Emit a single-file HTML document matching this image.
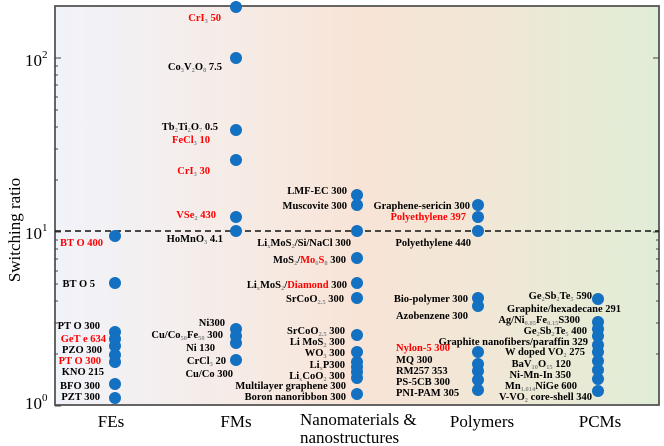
<!DOCTYPE html>
<html><head><style>
html,body{margin:0;padding:0;background:#fff;}
svg{display:block;}
text{font-family:"Liberation Serif",serif;font-weight:bold;font-size:10.5px;fill:#000;}
.r{fill:#f00;}
.s{font-size:6.5px;fill:#888;}
.ax{font-weight:normal;font-size:17px;}
</style></head><body>
<svg width="664" height="446" viewBox="0 0 664 446" xmlns="http://www.w3.org/2000/svg">
<defs>
<linearGradient id="bg" x1="0" x2="1" y1="0" y2="0">
<stop offset="0" stop-color="#f1f3fa"/>
<stop offset="0.3" stop-color="#f6ebe6"/>
<stop offset="0.5" stop-color="#f8e4d7"/>
<stop offset="0.72" stop-color="#f1e7d6"/>
<stop offset="1" stop-color="#e0edd6"/>
</linearGradient>
</defs>
<rect x="55" y="6" width="604" height="399" fill="url(#bg)"/>
<rect x="55" y="6" width="604" height="399" fill="none" stroke="#555" stroke-width="1.8"/>
<line x1="55" y1="231" x2="659" y2="231" stroke="#111" stroke-width="1.5" stroke-dasharray="6,4"/>
<g stroke="#444" stroke-width="1">
<line x1="55" y1="406" x2="61" y2="406"/><line x1="55" y1="232" x2="61" y2="232"/><line x1="55" y1="58" x2="61" y2="58"/>
<line x1="55" y1="354" x2="58" y2="354"/><line x1="55" y1="323" x2="58" y2="323"/><line x1="55" y1="301" x2="58" y2="301"/><line x1="55" y1="284" x2="58" y2="284"/><line x1="55" y1="271" x2="58" y2="271"/><line x1="55" y1="259" x2="58" y2="259"/><line x1="55" y1="249" x2="58" y2="249"/><line x1="55" y1="240" x2="58" y2="240"/>
<line x1="55" y1="180" x2="58" y2="180"/><line x1="55" y1="149" x2="58" y2="149"/><line x1="55" y1="127" x2="58" y2="127"/><line x1="55" y1="110" x2="58" y2="110"/><line x1="55" y1="97" x2="58" y2="97"/><line x1="55" y1="85" x2="58" y2="85"/><line x1="55" y1="75" x2="58" y2="75"/><line x1="55" y1="66" x2="58" y2="66"/>
<line x1="653" y1="58" x2="659" y2="58"/><line x1="653" y1="232" x2="659" y2="232"/>
<line x1="656" y1="240" x2="659" y2="240"/><line x1="656" y1="249" x2="659" y2="249"/><line x1="656" y1="259" x2="659" y2="259"/><line x1="656" y1="271" x2="659" y2="271"/><line x1="656" y1="284" x2="659" y2="284"/><line x1="656" y1="301" x2="659" y2="301"/><line x1="656" y1="323" x2="659" y2="323"/><line x1="656" y1="354" x2="659" y2="354"/>
</g>
<g fill="#1470c0">
<circle cx="115" cy="236" r="6"/><circle cx="115" cy="283" r="6"/><circle cx="115" cy="332" r="6"/><circle cx="115" cy="339" r="6"/><circle cx="115" cy="346" r="6"/><circle cx="115" cy="355" r="6"/><circle cx="115" cy="362" r="6"/><circle cx="115" cy="384" r="6"/><circle cx="115" cy="398" r="6"/>
<circle cx="236" cy="7" r="6"/><circle cx="236" cy="58" r="6"/><circle cx="236" cy="130" r="6"/><circle cx="236" cy="160" r="6"/><circle cx="236" cy="217" r="6"/><circle cx="236" cy="231" r="6"/><circle cx="236" cy="329" r="6"/><circle cx="236" cy="336" r="6"/><circle cx="236" cy="343" r="6"/><circle cx="236" cy="360" r="6"/>
<circle cx="357" cy="195" r="6"/><circle cx="357" cy="205" r="6"/><circle cx="357" cy="231" r="6"/><circle cx="357" cy="258" r="6"/><circle cx="357" cy="283" r="6"/><circle cx="357" cy="298" r="6"/><circle cx="357" cy="335" r="6"/><circle cx="357" cy="352" r="6"/><circle cx="357" cy="362" r="6"/><circle cx="357" cy="367" r="6"/><circle cx="357" cy="372" r="6"/><circle cx="357" cy="378" r="6"/><circle cx="357" cy="394" r="6"/>
<circle cx="478" cy="205" r="6"/><circle cx="478" cy="217" r="6"/><circle cx="478" cy="231" r="6"/><circle cx="478" cy="298" r="6"/><circle cx="478" cy="306" r="6"/><circle cx="478" cy="352" r="6"/><circle cx="478" cy="364" r="6"/><circle cx="478" cy="371" r="6"/><circle cx="478" cy="380" r="6"/><circle cx="478" cy="390" r="6"/>
<circle cx="598" cy="299" r="6"/><circle cx="598" cy="322" r="6"/><circle cx="598" cy="329" r="6"/><circle cx="598" cy="336" r="6"/><circle cx="598" cy="345" r="6"/><circle cx="598" cy="352" r="6"/><circle cx="598" cy="361" r="6"/><circle cx="598" cy="370" r="6"/><circle cx="598" cy="379" r="6"/><circle cx="598" cy="391" r="6"/>
</g>
<g text-anchor="end">
<text x="103" y="246" class="r">BT O 400</text>
<text x="95" y="287">BT O 5</text>
<text x="100" y="329">PT O 300</text>
<text x="106" y="342" class="r">GeT e 634</text>
<text x="102" y="353">PZO 300</text>
<text x="101" y="364" class="r">PT O 300</text>
<text x="104" y="375">KNO 215</text>
<text x="100" y="389">BFO 300</text>
<text x="100" y="400">PZT 300</text>

<text x="221" y="21" class="r">CrI<tspan class="s" dy="2">3</tspan><tspan dy="-2"> 50</tspan></text>
<text x="222" y="70">Co<tspan class="s" dy="2">3</tspan><tspan dy="-2">V</tspan><tspan class="s" dy="2">2</tspan><tspan dy="-2">O</tspan><tspan class="s" dy="2">8</tspan><tspan dy="-2"> 7.5</tspan></text>
<text x="218" y="130">Tb<tspan class="s" dy="2">2</tspan><tspan dy="-2">Ti</tspan><tspan class="s" dy="2">2</tspan><tspan dy="-2">O</tspan><tspan class="s" dy="2">7</tspan><tspan dy="-2"> 0.5</tspan></text>
<text x="210" y="143" class="r">FeCl<tspan class="s" dy="2">3</tspan><tspan dy="-2"> 10</tspan></text>
<text x="210" y="174" class="r">CrI<tspan class="s" dy="2">3</tspan><tspan dy="-2"> 30</tspan></text>
<text x="216" y="218" class="r">VSe<tspan class="s" dy="2">2</tspan><tspan dy="-2"> 430</tspan></text>
<text x="223" y="242">HoMnO<tspan class="s" dy="2">3</tspan><tspan dy="-2"> 4.1</tspan></text>
<text x="225" y="326">Ni300</text>
<text x="223" y="338">Cu/Co<tspan class="s" dy="2">50</tspan><tspan dy="-2">Fe</tspan><tspan class="s" dy="2">50</tspan><tspan dy="-2"> 300</tspan></text>
<text x="215" y="351">Ni 130</text>
<text x="226" y="364">CrCl<tspan class="s" dy="2">3</tspan><tspan dy="-2"> 20</tspan></text>
<text x="233" y="377">Cu/Co 300</text>

<text x="347" y="194">LMF-EC 300</text>
<text x="347" y="209">Muscovite 300</text>
<text x="351" y="246">Li<tspan class="s" dy="2">x</tspan><tspan dy="-2">MoS</tspan><tspan class="s" dy="2">2</tspan><tspan dy="-2">/Si/NaCl 300</tspan></text>
<text x="346" y="263">MoS<tspan class="s" dy="2">2</tspan><tspan dy="-2">/</tspan><tspan class="r">Mo</tspan><tspan class="s" dy="2">6</tspan><tspan class="r" dy="-2">S</tspan><tspan class="s" dy="2">8</tspan><tspan dy="-2"> 300</tspan></text>
<text x="347" y="288">Li<tspan class="s" dy="2">x</tspan><tspan dy="-2">MoS</tspan><tspan class="s" dy="2">2</tspan><tspan dy="-2">/</tspan><tspan class="r">Diamond</tspan><tspan> 300</tspan></text>
<text x="344" y="302">SrCoO<tspan class="s" dy="2">2.5</tspan><tspan dy="-2"> 300</tspan></text>
<text x="345" y="334">SrCoO<tspan class="s" dy="2">2.5</tspan><tspan dy="-2"> 300</tspan></text>
<text x="345" y="345">Li MoS<tspan class="s" dy="2">2</tspan><tspan dy="-2"> 300</tspan></text>
<text x="345" y="356">WO<tspan class="s" dy="2">3</tspan><tspan dy="-2"> 300</tspan></text>
<text x="345" y="368">Li<tspan class="s" dy="2">x</tspan><tspan dy="-2">P300</tspan></text>
<text x="345" y="379">Li<tspan class="s" dy="2">x</tspan><tspan dy="-2">CoO</tspan><tspan class="s" dy="2">2</tspan><tspan dy="-2"> 300</tspan></text>
<text x="346" y="389">Multilayer graphene 300</text>
<text x="346" y="400">Boron nanoribbon 300</text>

<text x="470" y="209">Graphene-sericin 300</text>
<text x="466" y="220" class="r">Polyethylene 397</text>
<text x="471" y="246">Polyethylene 440</text>
<text x="468" y="302">Bio-polymer 300</text>
<text x="468" y="319">Azobenzene 300</text>

<text x="592" y="299">Ge<tspan class="s" dy="2">2</tspan><tspan dy="-2">Sb</tspan><tspan class="s" dy="2">2</tspan><tspan dy="-2">Te</tspan><tspan class="s" dy="2">5</tspan><tspan dy="-2"> 590</tspan></text>
<text x="621" y="312">Graphite/hexadecane 291</text>
<text x="580" y="323">Ag/Ni<tspan class="s" dy="2">0.85</tspan><tspan dy="-2">Fe</tspan><tspan class="s" dy="2">0.15</tspan><tspan dy="-2">S300</tspan></text>
<text x="587" y="334">Ge<tspan class="s" dy="2">2</tspan><tspan dy="-2">Sb</tspan><tspan class="s" dy="2">2</tspan><tspan dy="-2">Te</tspan><tspan class="s" dy="2">5</tspan><tspan dy="-2"> 400</tspan></text>
<text x="588" y="345">Graphite nanofibers/paraffin 329</text>
<text x="585" y="355">W doped VO<tspan class="s" dy="2">2</tspan><tspan dy="-2"> 275</tspan></text>
<text x="571" y="367">BaV<tspan class="s" dy="2">10</tspan><tspan dy="-2">O</tspan><tspan class="s" dy="2">15</tspan><tspan dy="-2"> 120</tspan></text>
<text x="571" y="378">Ni-Mn-In 350</text>
<text x="577" y="389">Mn<tspan class="s" dy="2">1.014</tspan><tspan dy="-2">NiGe 600</tspan></text>
<text x="592" y="400">V-VO<tspan class="s" dy="2">2</tspan><tspan dy="-2"> core-shell 340</tspan></text>
</g>
<text x="396" y="351" class="r">Nylon-5 300</text>
<text x="396" y="363">MQ 300</text>
<text x="396" y="374">RM257 353</text>
<text x="396" y="385">PS-5CB 300</text>
<text x="396" y="396">PNI-PAM 305</text>

<text class="ax" x="25" y="409" font-size="18">10<tspan font-size="11" dy="-8">0</tspan></text>
<text class="ax" x="25" y="239" font-size="18">10<tspan font-size="11" dy="-8">1</tspan></text>
<text class="ax" x="25" y="66" font-size="18">10<tspan font-size="11" dy="-8">2</tspan></text>
<text class="ax" transform="translate(20,230) rotate(-90)" text-anchor="middle" font-size="18">Switching ratio</text>
<g text-anchor="middle">
<text class="ax" x="111" y="427">FEs</text>
<text class="ax" x="236" y="427">FMs</text>
<text class="ax" x="482" y="427">Polymers</text>
<text class="ax" x="600" y="427">PCMs</text>
</g>
<text class="ax" x="300" y="425">Nanomaterials &amp;</text>
<text class="ax" x="300" y="443">nanostructures</text>
</svg>
</body></html>
